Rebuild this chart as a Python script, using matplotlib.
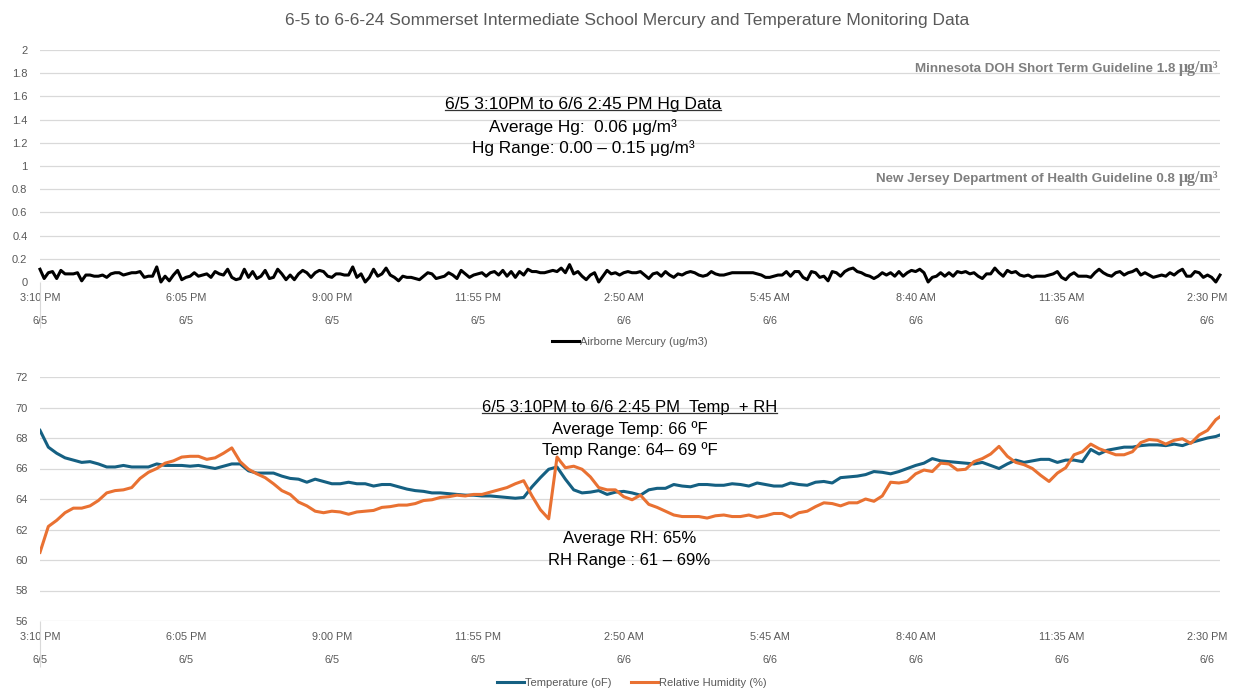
import matplotlib
matplotlib.use("Agg")
from matplotlib import pyplot as plt
from matplotlib.lines import Line2D

plt.rcParams['font.family'] = ['Liberation Sans', 'DejaVu Sans']

# x tick labels (every 175 minutes from 3:10 PM on 6/5)
tick_times = ["3:10 PM", "6:05 PM", "9:00 PM", "11:55 PM", "2:50 AM",
              "5:45 AM", "8:40 AM", "11:35 AM", "2:30 PM"]
tick_dates = ["6/5", "6/5", "6/5", "6/5", "6/6", "6/6", "6/6", "6/6", "6/6"]
tick_minutes = [0, 175, 350, 525, 700, 875, 1050, 1225, 1400]

# airborne mercury (ug/m3), 5-minute readings
mercury = [
    0.11, 0.03, 0.08, 0.09, 0.03, 0.10, 0.07, 0.07, 0.07, 0.08, 0.01, 0.06, 0.06, 0.05, 0.05, 0.06, 0.04, 0.07,
    0.08, 0.08, 0.06, 0.07, 0.08, 0.08, 0.09, 0.04, 0.05, 0.05, 0.13, 0.00, 0.05, 0.01, 0.06, 0.10, 0.02,
    0.04, 0.05, 0.08, 0.05, 0.06, 0.07, 0.04, 0.09, 0.07, 0.06, 0.11, 0.04, 0.02, 0.03, 0.11, 0.04, 0.09,
    0.03, 0.05, 0.10, 0.03, 0.04, 0.11, 0.07, 0.02, 0.06, 0.02, 0.07, 0.10, 0.08, 0.04, 0.08, 0.10, 0.09, 0.05,
    0.04, 0.07, 0.07, 0.06, 0.06, 0.13, 0.04, 0.07, 0.00, 0.04, 0.11, 0.05, 0.07, 0.12, 0.06, 0.04, 0.01,
    0.05, 0.04, 0.04, 0.03, 0.02, 0.05, 0.08, 0.07, 0.03, 0.04, 0.05, 0.08, 0.06, 0.03, 0.10, 0.07, 0.04, 0.06,
    0.07, 0.08, 0.05, 0.08, 0.09, 0.06, 0.10, 0.05, 0.09, 0.04, 0.09, 0.06, 0.11, 0.09, 0.09, 0.08, 0.08,
    0.09, 0.10, 0.09, 0.12, 0.08, 0.15, 0.07, 0.09, 0.05, 0.02, 0.06, 0.08, 0.00, 0.05, 0.10, 0.07, 0.08, 0.06,
    0.08, 0.09, 0.08, 0.08, 0.09, 0.06, 0.03, 0.07, 0.08, 0.05, 0.09, 0.06, 0.04, 0.07, 0.06, 0.08, 0.09,
    0.08, 0.06, 0.05, 0.06, 0.09, 0.07, 0.06, 0.06, 0.07, 0.08, 0.08, 0.08, 0.08, 0.08, 0.08, 0.07, 0.06, 0.04,
    0.04, 0.05, 0.06, 0.06, 0.09, 0.05, 0.09, 0.09, 0.04, 0.02, 0.09, 0.08, 0.04, 0.05, 0.01, 0.09, 0.08,
    0.05, 0.09, 0.11, 0.12, 0.09, 0.08, 0.06, 0.05, 0.03, 0.05, 0.08, 0.06, 0.08, 0.05, 0.09, 0.05, 0.08, 0.10,
    0.09, 0.11, 0.08, 0.00, 0.04, 0.05, 0.08, 0.05, 0.08, 0.05, 0.09, 0.08, 0.09, 0.07, 0.08, 0.05, 0.03,
    0.07, 0.07, 0.12, 0.08, 0.05, 0.10, 0.08, 0.09, 0.06, 0.05, 0.06, 0.04, 0.05, 0.05, 0.05, 0.06, 0.07, 0.09,
    0.04, 0.02, 0.06, 0.08, 0.05, 0.05, 0.05, 0.04, 0.08, 0.11, 0.08, 0.06, 0.05, 0.08, 0.09, 0.06, 0.08,
    0.09, 0.11, 0.06, 0.08, 0.06, 0.04, 0.05, 0.06, 0.05, 0.08, 0.06, 0.09, 0.11, 0.05, 0.05, 0.09, 0.08, 0.04,
    0.06, 0.04, 0.00, 0.06,
]
mercury_minutes = [5 * i for i in range(len(mercury))]

# temperature (oF) and relative humidity (%), 10-minute readings
temperature = [
    68.5, 67.4, 67.0, 66.7, 66.55, 66.4, 66.45, 66.3, 66.1, 66.1,
    66.2, 66.1, 66.1, 66.1, 66.3, 66.2, 66.2, 66.2, 66.15, 66.2,
    66.1, 66.0, 66.15, 66.3, 66.3, 65.85, 65.7, 65.7, 65.7, 65.5,
    65.35, 65.3, 65.1, 65.3, 65.15, 65.0, 65.0, 65.1, 65.0, 65.0,
    64.85, 64.95, 64.95, 64.8, 64.65, 64.55, 64.5, 64.4, 64.4, 64.35,
    64.3, 64.25, 64.25, 64.2, 64.2, 64.15, 64.1, 64.05, 64.1, 64.8,
    65.4, 65.95, 66.1, 65.3, 64.6, 64.4, 64.45, 64.55, 64.3, 64.45,
    64.5, 64.4, 64.25, 64.6, 64.7, 64.7, 64.95, 64.85, 64.8, 64.95,
    64.95, 64.9, 64.9, 65.0, 64.95, 64.85, 65.05, 64.95, 64.85, 64.85,
    65.05, 64.95, 64.9, 65.1, 65.15, 65.05, 65.4, 65.45, 65.5, 65.6,
    65.8, 65.75, 65.65, 65.8, 66.0, 66.2, 66.35, 66.65, 66.5, 66.45,
    66.4, 66.35, 66.3, 66.4, 66.2, 66.0, 66.3, 66.55, 66.4, 66.5,
    66.6, 66.6, 66.4, 66.55, 66.55, 66.45, 67.25, 66.95, 67.2, 67.3,
    67.4, 67.4, 67.5, 67.55, 67.55, 67.5, 67.6, 67.5, 67.7, 67.85,
    68.0, 68.1, 68.2,
]
humidity = [
    60.5, 62.2, 62.6, 63.1, 63.4, 63.4, 63.55, 63.9, 64.4, 64.55,
    64.6, 64.75, 65.35, 65.75, 66.0, 66.35, 66.5, 66.75, 66.8, 66.8,
    66.6, 66.7, 67.0, 67.35, 66.45, 65.95, 65.65, 65.4, 65.0, 64.55,
    64.3, 63.8, 63.55, 63.2, 63.1, 63.2, 63.15, 63.0, 63.15, 63.2,
    63.25, 63.45, 63.5, 63.6, 63.6, 63.7, 63.9, 63.95, 64.1, 64.15,
    64.25, 64.2, 64.3, 64.3, 64.45, 64.6, 64.75, 65.0, 65.2, 64.2,
    63.3, 62.7, 66.75, 66.05, 66.15, 65.95, 65.45, 64.75, 64.6, 64.6,
    64.15, 63.95, 64.25, 63.65, 63.45, 63.2, 62.95, 62.85, 62.85, 62.85,
    62.75, 62.9, 62.95, 62.85, 62.85, 62.95, 62.8, 62.9, 63.05, 63.05,
    62.8, 63.1, 63.2, 63.5, 63.75, 63.7, 63.55, 63.75, 63.75, 64.0,
    63.85, 64.2, 65.1, 65.05, 65.15, 65.65, 65.9, 65.8, 66.35, 66.3,
    65.9, 65.95, 66.45, 66.65, 66.95, 67.45, 66.8, 66.4, 66.25, 66.0,
    65.55, 65.15, 65.7, 66.05, 66.9, 67.1, 67.6, 67.3, 67.1, 66.9,
    66.9, 67.1, 67.7, 67.9, 67.85, 67.6, 67.85, 67.95, 67.65, 68.2,
    68.5, 69.2, 69.4,
]
env_minutes = [10 * i for i in range(len(temperature) - 1)] + [1415]

GRID = "#d9d9d9"
LABEL = "#595959"
TEMP_C = "#156082"
RH_C = "#e97132"
GUIDE = "#7f7f7f"

W, H = 1233, 698
fig = plt.figure(figsize=(W / 100, H / 100), dpi=100)
ax1 = fig.add_axes([40 / W, 1 - 282 / H, 1180 / W, 232 / H])
ax2 = fig.add_axes([40 / W, 1 - 621 / H, 1180 / W, 244 / H])

fig.text(627 / W, 1 - 20 / H,
         "6-5 to 6-6-24 Sommerset Intermediate School Mercury and Temperature Monitoring Data",
         ha="center", va="center", fontsize=12.5, color=LABEL)

tick_labels = [t + "\n\n" + d for t, d in zip(tick_times, tick_dates)]


def style_axis(ax, ymin, ymax, ystep):
    ax.set_xlim(0, 1415)
    ax.set_ylim(ymin, ymax)
    yt = [ymin + ystep * k for k in range(int(round((ymax - ymin) / ystep)) + 1)]
    ax.set_yticks(yt)
    ax.set_xticks(tick_minutes)
    ax.set_xticklabels(tick_labels, linespacing=1.2)
    ax.set_xticks([0], minor=True)
    ax.xaxis.remove_overlapping_locs = False
    ax.tick_params(axis="x", which="major", length=0, pad=8, labelsize=7.8, labelcolor=LABEL)
    ax.tick_params(axis="x", which="minor", length=33, width=0.8, color=GRID)
    ax.tick_params(axis="y", length=0, pad=9, labelsize=8, labelcolor=LABEL)
    ax.grid(axis="y", color=GRID, linewidth=0.9)
    ax.set_axisbelow(True)
    for s in ax.spines.values():
        s.set_visible(False)


# top chart: mercury
style_axis(ax1, 0, 2, 0.2)
ax1.set_yticklabels(["0", "0.2", "0.4", "0.6", "0.8", "1", "1.2", "1.4", "1.6", "1.8", "2"])
ax1.plot(mercury_minutes, mercury, color="black", linewidth=2.2, clip_on=False,
         label="Airborne Mercury (ug/m3)")
ax1.legend(loc="center", bbox_to_anchor=(590 / 1180, -60 / 232), frameon=False,
           fontsize=8, labelcolor=LABEL, handlelength=2.4, handletextpad=0.1)

hg_title = ax1.text(651, 1.526, "6/5 3:10PM to 6/6 2:45 PM Hg Data",
                    ha="center", va="center", fontsize=12.6)
ax1.text(651, 1.336, "Average Hg:  0.06 \u03bcg/m\u00b3", ha="center", va="center", fontsize=12.4)
ax1.text(651, 1.155, "Hg Range: 0.00 \u2013 0.15 \u03bcg/m\u00b3", ha="center", va="center", fontsize=12.4)

# guideline labels: sans text + serif unit sharing one baseline
guides = [("Minnesota DOH Short Term Guideline 1.8 ", 1.81),
          ("New Jersey Department of Health Guideline 0.8 ", 0.865)]
units = []
for label, yb in guides:
    u = ax1.text(1413, yb, "\u03bcg/m\u00b3", ha="right", va="baseline", fontsize=11.5,
                 fontweight="bold", color=GUIDE, family="Liberation Serif")
    units.append(u)

# bottom chart: temperature + humidity
style_axis(ax2, 56, 72, 2)
ax2.plot(env_minutes, temperature, color=TEMP_C, linewidth=2.2, label="Temperature (oF)")
ax2.plot(env_minutes, humidity, color=RH_C, linewidth=2.2, label="Relative Humidity (%)")
ax2.legend(loc="center", bbox_to_anchor=(592 / 1180, -62 / 244), frameon=False, ncol=2,
           fontsize=8, labelcolor=LABEL, handlelength=2.4, handletextpad=0.1, columnspacing=1.8)

env_title = ax2.text(707, 70.0, "6/5 3:10PM to 6/6 2:45 PM  Temp  + RH",
                     ha="center", va="center", fontsize=12)
ax2.text(707, 68.57, "Average Temp: 66 \u00baF", ha="center", va="center", fontsize=12)
ax2.text(707, 67.2, "Temp Range: 64\u2013 69 \u00baF", ha="center", va="center", fontsize=12)
ax2.text(707, 61.42, "Average RH: 65%", ha="center", va="center", fontsize=12)
ax2.text(707, 59.98, "RH Range : 61 \u2013 69%", ha="center", va="center", fontsize=12)

fig.canvas.draw()

# place guideline text right before each unit
inv = ax1.transData.inverted()
for (label, yb), u in zip(guides, units):
    bb = u.get_window_extent()
    xs = inv.transform((bb.x0, 0))[0]
    ax1.text(xs, yb, label, ha="right", va="baseline", fontsize=9.6,
             fontweight="bold", color=GUIDE)

# underline the two block headings
for t in (hg_title, env_title):
    bb = t.get_window_extent()
    y = bb.y0 + 2
    fig.add_artist(Line2D([bb.x0 / W, bb.x1 / W], [y / H, y / H], color="#333333", linewidth=0.9))

fig.savefig("out.png", dpi=100)
